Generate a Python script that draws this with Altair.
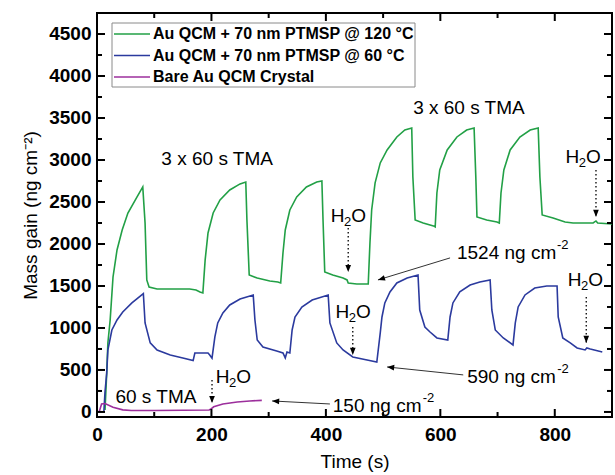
import altair as alt
import pandas as pd

# ---------------- data ----------------
green_t = [14, 17, 19, 23, 28, 35, 44, 54, 70, 80,
           84, 87, 91, 105, 133, 162, 173, 180, 185,
           189, 194, 203, 215, 232, 250, 260,
           262, 266, 280, 302, 316, 321,
           325, 329, 337, 349, 366, 384, 393,
           395, 398, 412, 430, 437, 439, 454, 474,
           477, 480, 486, 495, 507, 524, 538, 550,
           552, 556, 570, 588, 591,
           594, 599, 612, 629, 646, 659,
           662, 664, 681, 699, 703,
           706, 711, 722, 739, 757, 771,
           774, 778, 797, 818, 832, 867, 872, 875, 900]
green_y = [24, 464, 821, 1095, 1607, 1929, 2167, 2369, 2560, 2679,
           2250, 1572, 1488, 1464, 1464, 1464, 1453, 1429, 1417,
           1810, 2131, 2369, 2524, 2643, 2715, 2738,
           2286, 1631, 1595, 1560, 1548, 1536,
           1893, 2167, 2405, 2560, 2679, 2738, 2750,
           2286, 1667, 1631, 1595, 1572, 1536, 1524, 1524,
           2012, 2405, 2727, 2965, 3119, 3274, 3357, 3381,
           2798, 2286, 2250, 2215, 2203,
           2607, 2881, 3119, 3274, 3357, 3381,
           2798, 2322, 2286, 2262, 2250,
           2607, 2881, 3119, 3274, 3357, 3381,
           2798, 2345, 2310, 2262, 2250, 2250, 2274, 2250, 2238]

blue_t = [12, 14, 17, 19, 26, 35, 45, 61, 81,
          84, 93, 105, 128, 150, 168, 171, 194, 197, 201,
          206, 211, 220, 232, 250, 273,
          276, 280, 290, 314, 325, 329, 332, 337,
          341, 346, 358, 376, 404,
          407, 419, 430, 447, 472, 489,
          495, 498, 503, 512, 524, 542, 561,
          564, 573, 582, 594, 613,
          617, 622, 634, 652, 669, 687,
          690, 696, 710, 727,
          731, 736, 748, 765, 786, 804,
          806, 814, 827, 839, 853, 856, 862, 883]
blue_y = [0, 240, 464, 738, 976, 1095, 1191, 1298, 1410,
          1060, 822, 738, 679, 643, 612, 702, 702, 679, 640,
          893, 1060, 1179, 1274, 1345, 1393,
          1095, 857, 774, 726, 702, 643, 714, 702,
          976, 1131, 1250, 1333, 1393,
          1060, 822, 738, 655, 619, 595,
          941, 1131, 1298, 1429, 1536, 1595, 1631,
          1214, 1012, 952, 881, 857,
          1131, 1298, 1429, 1512, 1548, 1572,
          1214, 976, 881, 798,
          1060, 1250, 1393, 1476, 1500, 1500,
          1131, 881, 822, 762, 738, 762, 750, 714]

purple_t = [0, 4, 8, 14, 28, 45, 60, 100, 150, 196, 200, 204, 220, 245, 267, 288]
purple_y = [0, 5, 95, 100, 55, 25, 18, 18, 20, 24, 40, 62, 95, 119, 131, 138]

series_names = ["Au QCM + 70 nm PTMSP @ 120 °C",
                "Au QCM + 70 nm PTMSP @ 60 °C",
                "Bare Au QCM Crystal"]
series_colors = ["#22a046", "#2b3a9e", "#9c2f9c"]

x_ticks = [0, 200, 400, 600, 800]
x_minor = [100, 300, 500, 700, 900]
y_ticks = [0, 500, 1000, 1500, 2000, 2500, 3000, 3500, 4000, 4500]
y_minor = [250, 750, 1250, 1750, 2250, 2750, 3250, 3750, 4250]

# text annotations (data coordinates)
tma_text = ["3 x 60 s TMA", "3 x 60 s TMA", "60 s TMA"]
tma_t = [210, 650, 103]
tma_y = [3012, 3620, 179]

h2o_t = [439, 447, 238, 849, 853]
h2o_y = [2334, 1191, 417, 3036, 1572]

# dotted H2O arrows: x, y start, y end (tip)
dot_t = [439, 447, 201, 872, 855]
dot_y1 = [2191, 1012, 381, 2881, 1369]
dot_y2 = [1667, 679, 107, 2322, 822]

# value labels
val_text = ["1524 ng cm", "590 ng cm", "150 ng cm"]
val_t = [629, 647, 412]
val_y = [1893, 417, 71]
sup_dx = [100, 90, 90]

# solid arrows: start -> tip
arr_t1 = [617, 640, 407]
arr_y1 = [1834, 441, 95]
arr_t2 = [491, 507, 306]
arr_y2 = [1572, 536, 131]
arr_angle = [73, 96, 93]

# legend rows (pixel rows inside the plot)
legend_rows = [21, 42.5, 64]

# ---------------- frames ----------------
rows = []
for name, ts, ys in zip(series_names, [green_t, blue_t, purple_t], [green_y, blue_y, purple_y]):
    for i, (t, y) in enumerate(zip(ts, ys)):
        rows.append({"series": name, "t": t, "y": y, "order": i})
df = pd.DataFrame(rows)

W, H = 515, 404
FONT = "Liberation Sans"

xs = alt.Scale(domain=[0, 900], nice=False, zero=False)
ys = alt.Scale(domain=[-60, 4750], nice=False, zero=False)

def X(f):
    return alt.X(f, scale=xs, axis=None)

def Y(f):
    return alt.Y(f, scale=ys, axis=None)

color = alt.Color("series:N", scale=alt.Scale(domain=series_names, range=series_colors), legend=None)

lines = alt.Chart(df).mark_line(strokeWidth=1.6, clip=True).encode(
    x=alt.X("t:Q", scale=xs, title="Time (s)",
            axis=alt.Axis(values=x_ticks, ticks=False, domain=False, grid=False, format="d",
                          labelFlush=False, orient="bottom",
                          labelFontWeight="bold", labelFontSize=19, labelFont=FONT,
                          labelPadding=8, titleFont=FONT, titleFontSize=19,
                          titleFontWeight="normal", titlePadding=8, labelColor="black",
                          titleColor="black")),
    y=alt.Y("y:Q", scale=ys, title="Mass gain (ng cm⁻²)",
            axis=alt.Axis(values=y_ticks, ticks=False, domain=False, grid=False, format="d",
                          labelFlush=False, orient="left",
                          labelFontWeight="bold", labelFontSize=19, labelFont=FONT,
                          labelPadding=6, titleFont=FONT, titleFontSize=19,
                          titleFontWeight="normal", titlePadding=8, labelColor="black",
                          titleColor="black")),
    color=color,
    detail="series:N",
    order="order:Q",
)

# inward ticks
xt = pd.DataFrame({"v": x_ticks})
xm = pd.DataFrame({"v": x_minor})
yt = pd.DataFrame({"v": y_ticks})
ym = pd.DataFrame({"v": y_minor})

def xtick(d, L):
    b = alt.Chart(d).mark_rule(color="black", strokeWidth=2).encode(
        x=X("v:Q"), y=alt.value(H), y2=alt.value(H - L))
    t = alt.Chart(d).mark_rule(color="black", strokeWidth=2).encode(
        x=X("v:Q"), y=alt.value(0), y2=alt.value(L))
    return [b, t]

def ytick(d, L):
    l = alt.Chart(d).mark_rule(color="black", strokeWidth=2).encode(
        y=Y("v:Q"), x=alt.value(0), x2=alt.value(L))
    r = alt.Chart(d).mark_rule(color="black", strokeWidth=2).encode(
        y=Y("v:Q"), x=alt.value(W), x2=alt.value(W - L))
    return [l, r]

ticks = xtick(xt, 8) + xtick(xm, 5) + ytick(yt, 8) + ytick(ym, 5)

# TMA labels
tma_df = pd.DataFrame({"t": tma_t, "y": tma_y, "txt": tma_text})
tma = alt.Chart(tma_df).mark_text(font=FONT, fontSize=19, color="black").encode(
    x=X("t:Q"), y=Y("y:Q"), text="txt:N")

# H2O labels built from pieces
h2o_df = pd.DataFrame({"t": h2o_t, "y": h2o_y})
hH = alt.Chart(h2o_df).mark_text(font=FONT, fontSize=19, color="black", dx=-10.5, text="H").encode(
    x=X("t:Q"), y=Y("y:Q"))
h2 = alt.Chart(h2o_df).mark_text(font=FONT, fontSize=13, color="black", dx=-0.5, dy=6, text="2").encode(
    x=X("t:Q"), y=Y("y:Q"))
hO = alt.Chart(h2o_df).mark_text(font=FONT, fontSize=19, color="black", dx=10.5, text="O").encode(
    x=X("t:Q"), y=Y("y:Q"))

# dotted arrows
dot_df = pd.DataFrame({"t": dot_t, "y1": dot_y1, "y2": dot_y2})
dots = alt.Chart(dot_df).mark_rule(color="black", strokeWidth=1.3, strokeDash=[1.5, 2.5]).encode(
    x=X("t:Q"), y=Y("y1:Q"), y2="y2:Q")
head_path = "M0,0L-0.4,-1L0.4,-1Z"
dot_heads = alt.Chart(dot_df).mark_point(shape=head_path, filled=True, color="black", size=200, opacity=1).encode(
    x=X("t:Q"), y=Y("y2:Q"))

# value labels with superscript
val_df = pd.DataFrame({"t": val_t, "y": val_y, "txt": val_text})
vals = alt.Chart(val_df).mark_text(font=FONT, fontSize=19, color="black", align="left").encode(
    x=X("t:Q"), y=Y("y:Q"), text="txt:N")
sups = []
for i in range(3):
    sups.append(alt.Chart(val_df.iloc[[i]]).mark_text(font=FONT, fontSize=13, color="black", align="left",
                                                         dx=sup_dx[i], dy=-8, text="-2").encode(
        x=X("t:Q"), y=Y("y:Q")))

# solid arrows
arr_df = pd.DataFrame({"t1": arr_t1, "y1": arr_y1, "t2": arr_t2, "y2": arr_y2, "ang": arr_angle})
arrs = alt.Chart(arr_df).mark_rule(color="#333333", strokeWidth=1).encode(
    x=X("t1:Q"), y=Y("y1:Q"), x2="t2:Q", y2="y2:Q")
arr_heads = alt.Chart(arr_df).mark_point(shape=head_path, filled=True, color="black", size=200, opacity=1).encode(
    x=X("t2:Q"), y=Y("y2:Q"), angle=alt.Angle("ang:Q", scale=None))

# legend (drawn manually)
box = alt.Chart(pd.DataFrame({"a": [0]})).mark_rect(fill="white", stroke="#8a8a8a", strokeWidth=1).encode(
    x=alt.value(15), x2=alt.value(318), y=alt.value(10), y2=alt.value(74))
legend_layers = [box]
for name, col, ry in zip(series_names, series_colors, legend_rows):
    one = pd.DataFrame({"series": [name]})
    legend_layers.append(alt.Chart(one).mark_rule(strokeWidth=1.6, color=col).encode(
        x=alt.value(17), x2=alt.value(53), y=alt.value(ry)))
    legend_layers.append(alt.Chart(one).mark_text(font=FONT, fontSize=16, fontWeight="bold", align="left",
                                                  baseline="middle", color="black").encode(
        x=alt.value(56), y=alt.value(ry), text="series:N"))

chart = alt.layer(
    lines, *ticks, tma, hH, h2, hO, dots, dot_heads, vals, *sups, arrs, arr_heads,
    *legend_layers
).resolve_axis(x="independent", y="independent").properties(
    width=W, height=H,
    autosize=alt.AutoSizeParams(type="none"),
    padding={"left": 97, "top": 13, "right": 3, "bottom": 58},
    background="white",
).configure_view(stroke="black", strokeWidth=2)

chart.save("out.html", embed_options={"renderer": "svg", "actions": False})
